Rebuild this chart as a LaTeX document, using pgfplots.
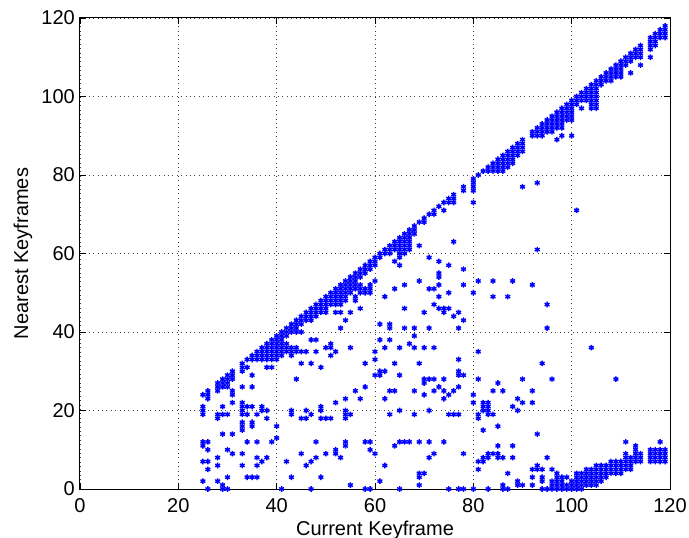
\documentclass[border=0pt]{standalone}
\usepackage{fontspec}
\setmainfont{Liberation Sans}
\usepackage{pgfplots}
\pgfplotsset{compat=1.18}
\begin{document}
\begin{tikzpicture}
\useasboundingbox (-80bp,-49bp) rectangle (609bp,489bp);
\begin{axis}[
  at={(0,0)}, anchor=south west,
  scale only axis, width=590bp, height=471bp,
  xmin=0, xmax=120, ymin=0, ymax=120,
  xtick={0,20,...,120}, ytick={0,20,...,120},
  grid=major,
  major grid style={black!75, line width=0.5bp, dash pattern=on 0.8bp off 3.6bp},
  tick align=inside, major tick length=6bp,
  tick style={black, line width=0.6bp},
  axis line style={black, line width=1bp},
  clip=false,
  /pgf/number format/assume math mode=true,
  tick label style={font=\fontsize{20bp}{24bp}\selectfont, inner sep=0pt},
  xticklabel style={yshift=-9bp},
  yticklabel style={xshift=-5bp},
  label style={font=\fontsize{20bp}{24bp}\selectfont},
  xlabel={Current Keyframe},
  ylabel={Nearest Keyframes},
  xlabel style={at={(axis description cs:0.5,-0.0977)}, anchor=base, inner sep=0pt},
  ylabel style={at={(axis description cs:-0.0881,0.5)}, anchor=base, inner sep=0pt},
]
% current keyframe vs. the keyframes found to be nearest to it
\addplot[only marks, mark=asterisk, color=blue, mark size=2.8bp,
  mark options={line width=1.4bp}] coordinates {
(25,24) (25,21) (25,20) (25,19) (25,12) (25,11) (25,7) (25,2)
(26,25) (26,24) (26,23) (26,12) (26,10) (26,7) (26,5) (26,0)
(28,27) (28,26) (28,25) (28,19) (28,18) (28,8) (28,6) (28,2)
(29,28) (29,27) (29,26) (29,21) (29,19) (29,14) (29,1) (29,0)
(30,29) (30,28) (30,27) (30,26) (30,19) (30,10) (30,3) (30,0)
(31,30) (31,29) (31,28) (31,25) (31,24) (31,22) (31,14) (31,9)
(33,32) (33,31) (33,30) (33,26) (33,22) (33,21) (33,20) (33,19) (33,17) (33,16) (33,15) (33,9) (33,6)
(34,33) (34,31) (34,21) (34,19) (34,12) (34,3)
(35,34) (35,33) (35,29) (35,26) (35,21) (35,17) (35,16) (35,3)
(36,35) (36,34) (36,33) (36,19) (36,12) (36,8) (36,6) (36,3)
(37,36) (37,35) (37,34) (37,33) (37,21) (37,20) (37,7)
(38,37) (38,36) (38,35) (38,34) (38,33) (38,31) (38,20) (38,18) (38,8)
(39,38) (39,37) (39,36) (39,35) (39,34) (39,33) (39,31) (39,12)
(40,39) (40,38) (40,37) (40,36) (40,35) (40,34) (40,33) (40,16) (40,13)
(41,40) (41,39) (41,38) (41,37) (41,36) (41,35) (41,34) (41,0)
(42,41) (42,40) (42,39) (42,37) (42,36) (42,35) (42,7)
(43,42) (43,41) (43,40) (43,36) (43,35) (43,34) (43,20) (43,19) (43,3)
(44,43) (44,42) (44,41) (44,40) (44,36) (44,35) (44,28)
(45,44) (45,43) (45,42) (45,40) (45,35) (45,32) (45,18) (45,9)
(46,45) (46,44) (46,43) (46,35) (46,20) (46,18) (46,6)
(47,46) (47,45) (47,44) (47,43) (47,38) (47,32) (47,19) (47,7) (47,0)
(48,47) (48,46) (48,45) (48,44) (48,38) (48,35) (48,12) (48,8)
(49,48) (49,47) (49,46) (49,45) (49,31) (49,21) (49,20) (49,18) (49,3)
(50,49) (50,48) (50,47) (50,46) (50,45) (50,36) (50,18) (50,9)
(51,50) (51,49) (51,48) (51,47) (51,37) (51,36) (51,34) (51,18)
(52,51) (52,50) (52,49) (52,48) (52,47) (52,45) (52,35) (52,22) (52,10) (52,9)
(53,52) (53,51) (53,50) (53,49) (53,48) (53,47) (53,45) (53,41) (53,8)
(54,53) (54,52) (54,51) (54,50) (54,49) (54,48) (54,43) (54,23) (54,20) (54,19) (54,18) (54,12) (54,11)
(55,54) (55,53) (55,52) (55,51) (55,50) (55,45) (55,36) (55,19) (55,1)
(56,55) (56,54) (56,53) (56,52) (56,51) (56,49) (56,48) (56,25)
(57,56) (57,55) (57,54) (57,52) (57,51) (57,50) (57,46) (57,23)
(58,57) (58,56) (58,55) (58,51) (58,50) (58,32) (58,26) (58,12) (58,0)
(59,58) (59,57) (59,56) (59,52) (59,51) (59,50) (59,12) (59,10) (59,0)
(60,59) (60,58) (60,57) (60,53) (60,35) (60,33) (60,29) (60,9)
(61,60) (61,59) (61,42) (61,38) (61,30) (61,29) (61,2)
(62,61) (62,60) (62,49) (62,36) (62,30) (62,23) (62,6)
(63,62) (63,61) (63,60) (63,42) (63,41) (63,38) (63,25) (63,19)
(64,63) (64,62) (64,61) (64,58) (64,51) (64,32) (64,25) (64,11)
(65,64) (65,63) (65,62) (65,61) (65,60) (65,59) (65,57) (65,36) (65,29) (65,20) (65,12) (65,0)
(66,65) (66,64) (66,63) (66,62) (66,61) (66,60) (66,52) (66,46) (66,41) (66,12)
(67,66) (67,65) (67,64) (67,63) (67,62) (67,61) (67,37) (67,12)
(68,67) (68,66) (68,65) (68,41) (68,39) (68,36) (68,25) (68,19)
(69,68) (69,62) (69,53) (69,32) (69,12) (69,4) (69,3) (69,1)
(70,69) (70,68) (70,45) (70,36) (70,28) (70,27) (70,24) (70,4)
(71,70) (71,59) (71,51) (71,41) (71,28) (71,20) (71,12) (71,8)
(72,71) (72,70) (72,51) (72,47) (72,36) (72,28) (72,25) (72,9)
(73,72) (73,58) (73,55) (73,54) (73,52) (73,49) (73,46) (73,26)
(74,73) (74,71) (74,46) (74,45) (74,28) (74,25) (74,23) (74,12)
(75,74) (75,73) (75,57) (75,50) (75,46) (75,24) (75,19) (75,0)
(76,75) (76,74) (76,73) (76,63) (76,44) (76,25) (76,19)
(77,45) (77,41) (77,33) (77,30) (77,29) (77,26) (77,19) (77,0)
(78,77) (78,76) (78,56) (78,52) (78,43) (78,29) (78,9) (78,0)
(80,79) (80,78) (80,77) (80,76) (80,73) (80,50) (80,24) (80,22) (80,0)
(81,80) (81,53) (81,35) (81,28) (81,19) (81,18) (81,7) (81,5)
(82,81) (82,22) (82,21) (82,20) (82,15) (82,8) (82,7)
(83,82) (83,81) (83,22) (83,21) (83,20) (83,19) (83,9) (83,8) (83,0)
(84,83) (84,82) (84,81) (84,53) (84,49) (84,25) (84,19) (84,9)
(85,84) (85,83) (85,82) (85,81) (85,27) (85,16) (85,11) (85,9) (85,8)
(86,85) (86,84) (86,83) (86,82) (86,81) (86,25) (86,8) (86,1) (86,0)
(87,86) (87,85) (87,84) (87,83) (87,82) (87,49) (87,4) (87,0)
(88,87) (88,86) (88,85) (88,84) (88,83) (88,53) (88,21) (88,11) (88,8)
(89,88) (89,87) (89,86) (89,85) (89,23) (89,20) (89,2) (89,1)
(90,89) (90,88) (90,87) (90,86) (90,77) (90,28) (90,22) (90,1)
(92,91) (92,90) (92,52) (92,25) (92,22) (92,5) (92,3) (92,1)
(93,92) (93,91) (93,90) (93,78) (93,61) (93,14) (93,6) (93,5)
(94,93) (94,92) (94,91) (94,90) (94,32) (94,5) (94,3) (94,2) (94,0)
(95,94) (95,93) (95,92) (95,91) (95,47) (95,41) (95,8) (95,0)
(96,95) (96,94) (96,93) (96,92) (96,91) (96,28) (96,5) (96,2) (96,1) (96,0)
(97,96) (97,95) (97,94) (97,93) (97,92) (97,89) (97,4) (97,3) (97,2) (97,1) (97,0)
(98,97) (98,96) (98,95) (98,94) (98,93) (98,92) (98,90) (98,3) (98,2) (98,1) (98,0)
(99,98) (99,97) (99,96) (99,95) (99,94) (99,3) (99,1) (99,0)
(100,99) (100,98) (100,97) (100,96) (100,95) (100,94) (100,90) (100,2) (100,1) (100,0)
(101,100) (101,99) (101,98) (101,71) (101,4) (101,3) (101,2) (101,1) (101,0)
(102,101) (102,100) (102,99) (102,97) (102,4) (102,3) (102,2) (102,1) (102,0)
(103,102) (103,101) (103,100) (103,99) (103,5) (103,4) (103,3) (103,2) (103,1)
(104,103) (104,102) (104,101) (104,100) (104,99) (104,98) (104,97) (104,36) (104,5) (104,4) (104,3) (104,2) (104,1)
(105,104) (105,103) (105,102) (105,101) (105,100) (105,99) (105,98) (105,97) (105,6) (105,5) (105,4) (105,3) (105,2) (105,1)
(106,105) (106,104) (106,103) (106,6) (106,5) (106,4) (106,3) (106,2)
(107,106) (107,105) (107,104) (107,6) (107,5) (107,4) (107,3)
(108,107) (108,106) (108,105) (108,104) (108,7) (108,6) (108,5) (108,4)
(109,108) (109,107) (109,106) (109,105) (109,28) (109,7) (109,6) (109,5) (109,4)
(110,109) (110,108) (110,107) (110,106) (110,105) (110,7) (110,6) (110,5) (110,4)
(111,110) (111,109) (111,108) (111,12) (111,9) (111,8) (111,7) (111,6) (111,5)
(112,111) (112,110) (112,109) (112,106) (112,8) (112,7) (112,6) (112,5)
(113,112) (113,111) (113,110) (113,11) (113,10) (113,9) (113,8) (113,7)
(114,113) (114,112) (114,111) (114,110) (114,108) (114,9) (114,8) (114,7)
(116,115) (116,114) (116,113) (116,112) (116,110) (116,10) (116,9) (116,8) (116,7)
(117,116) (117,115) (117,114) (117,113) (117,10) (117,9) (117,8) (117,7)
(118,117) (118,116) (118,115) (118,12) (118,10) (118,9) (118,8) (118,7)
(119,118) (119,117) (119,116) (119,115) (119,10) (119,9) (119,8) (119,7)
};
\end{axis}
\end{tikzpicture}
\end{document}
